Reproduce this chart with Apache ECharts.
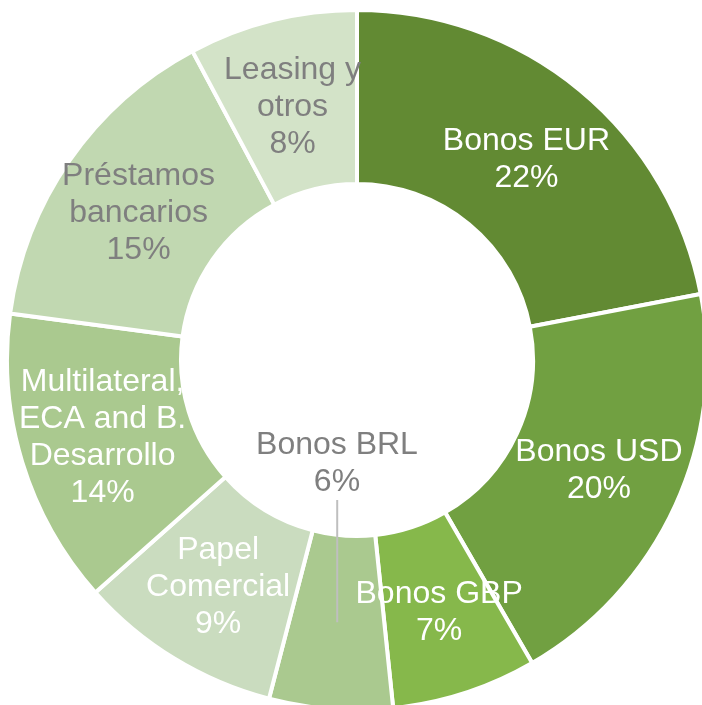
<!DOCTYPE html>
<html>
<head>
<meta charset="utf-8">
<script src="https://cdn.jsdelivr.net/npm/echarts@6/dist/echarts.min.js"></script>
<style>
  html, body { margin: 0; padding: 0; background: #fff; }
  #main { width: 702px; height: 705px; }
</style>
</head>
<body>
<div id="main"></div>
<script>
var names = ['Bonos EUR', 'Bonos USD', 'Bonos GBP', 'Bonos BRL', 'Papel\nComercial',
  'Multilateral,\nECA and B.\nDesarrollo', 'Préstamos\nbancarios', 'Leasing y\notros'];
var values = [22.0, 19.7, 6.7, 5.7, 9.4, 13.7, 15.1, 7.8];
var colors = ['#628a33', '#71a041', '#86b84b', '#aac98f', '#cadcbf', '#aac98f', '#c1d8b1', '#d3e3c8'];
var labelColors = ['#ffffff', '#ffffff', '#ffffff', '#7f7f7f', '#ffffff', '#ffffff', '#7f7f7f', '#7f7f7f'];

var cx = 357, cy = 360, rIn = 176, rOut = 350;

var chartDom = document.getElementById('main');
var myChart = echarts.init(chartDom);

// leader line of the BRL slice: from slice middle up into the hole
var total = values.reduce(function (a, b) { return a + b; }, 0);
var before = 0;
for (var i = 0; i < 3; i++) before += values[i];
var midAng = (before + values[3] / 2) / total * Math.PI * 2;
var rMid = (rIn + rOut) / 2;
var lx = cx + rMid * Math.sin(midAng);
var ly = cy - rMid * Math.cos(midAng);

var data = names.map(function (n, i) {
  return {
    name: n,
    value: values[i],
    itemStyle: { color: colors[i] },
    label: { color: labelColors[i] }
  };
});

var option = {
  animation: false,
  graphic: [{
    type: 'line',
    shape: { x1: lx, y1: ly, x2: lx, y2: 500 },
    style: { stroke: '#bfbfbf', lineWidth: 2 },
    z: 10
  }],
  series: [{
    type: 'pie',
    center: [cx, cy],
    radius: [rIn, rOut],
    startAngle: 90,
    clockwise: true,
    avoidLabelOverlap: false,
    itemStyle: { borderColor: '#fff', borderWidth: 4 },
    label: {
      show: true,
      position: 'inside',
      fontFamily: 'Liberation Sans, Arial, sans-serif',
      fontSize: 32,
      lineHeight: 37,
      align: 'center',
      formatter: function (p) {
        return p.name + '\n' + Math.round(p.value) + '%';
      }
    },
    labelLine: { show: false },
    labelLayout: function (p) {
      if (p.dataIndex === 3) {
        return { dy: -162 };
      }
      // top labels sit a bit lower in the original
      if (p.dataIndex === 0 || p.dataIndex >= 6) {
        return { dy: 5 };
      }
    },
    emphasis: { disabled: true },
    data: data
  }]
};

myChart.setOption(option);
</script>
</body>
</html>
